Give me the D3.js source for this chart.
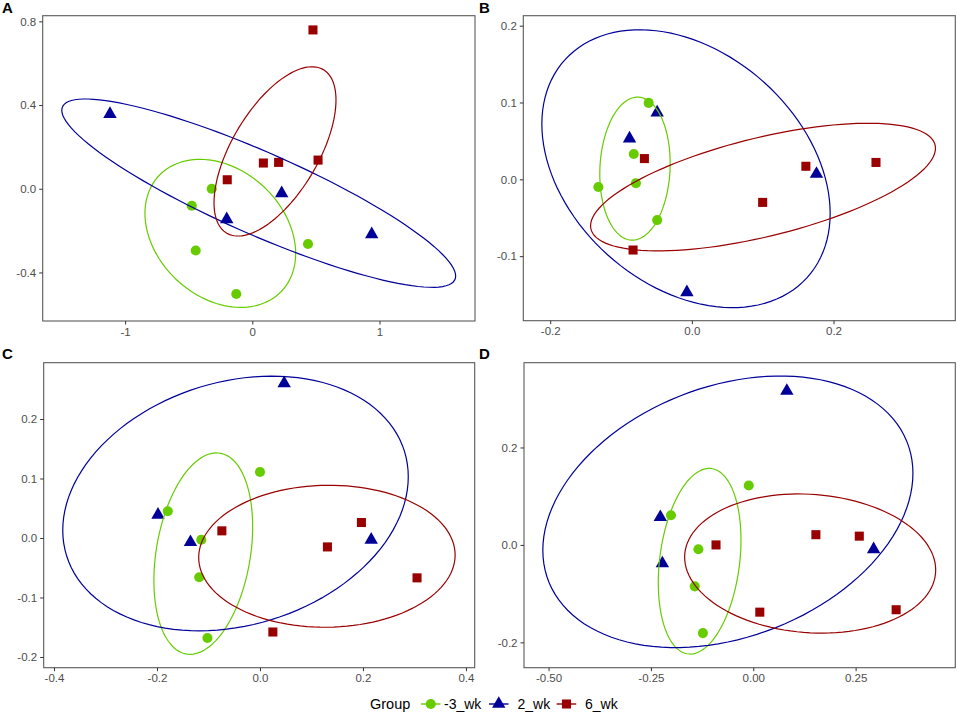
<!DOCTYPE html>
<meta charset="utf-8">
<script src="https://d3js.org/d3.v7.min.js"></script>
<style>
  body { margin: 0; background: #fff; }
  text { font-family: "Liberation Sans", Arial, sans-serif; }
</style>
<div id="chart"></div>
<script>

// groups and legend
var groups = ["-3_wk", "2_wk", "6_wk"];
var colors = ["#66CC00", "#000099", "#990000"];

// points per panel, [x, y] per group
var panelA = [
  [[-0.319, 0.000], [-0.476, -0.081], [-0.445, -0.295], [-0.126, -0.503], [0.438, -0.264]],
  [[-1.119, 0.357], [0.231, -0.022], [-0.201, -0.146], [0.939, -0.218]],
  [[0.477, 0.759], [0.087, 0.123], [0.207, 0.126], [0.517, 0.137], [-0.197, 0.043]]
];
var panelB = [
  [[-0.061, 0.0995], [-0.082, 0.033], [-0.079, -0.005], [-0.132, -0.010], [-0.049, -0.053]],
  [[-0.049, 0.087], [-0.088, 0.053], [0.176, 0.007], [-0.007, -0.147]],
  [[-0.067, 0.027], [0.161, 0.017], [0.260, 0.022], [0.100, -0.030], [-0.083, -0.092]]
];
var panelC = [
  [[0.000, 0.111], [-0.179, 0.045], [-0.114, -0.003], [-0.118, -0.066], [-0.102, -0.168]],
  [[0.047, 0.260], [-0.198, 0.039], [-0.135, -0.007], [0.216, -0.003]],
  [[-0.074, 0.012], [0.197, 0.026], [0.131, -0.015], [0.305, -0.067], [0.025, -0.158]]
];
var panelD = [
  [[-0.011, 0.122], [-0.201, 0.061], [-0.134, -0.009], [-0.143, -0.085], [-0.123, -0.181]],
  [[0.082, 0.316], [-0.227, 0.057], [-0.222, -0.038], [0.294, -0.009]],
  [[-0.091, 0.000], [0.153, 0.021], [0.259, 0.018], [0.016, -0.138], [0.349, -0.133]]
];

// 95% ellipses: [xmin, xmax, ymin, ymax, y at rightmost point]
var ellipsesA = [
  [-0.844, 0.341, -0.567, 0.1405, -0.309],
  [-1.498, 1.599, -0.471, 0.429, -0.417],
  [-0.301, 0.658, -0.226, 0.583, 0.424]
];
var ellipsesB = [
  [-0.130, -0.0306, -0.0792, 0.107, 0.0209],
  [-0.2118, 0.1953, -0.167, 0.1947, -0.0443],
  [-0.143, 0.344, -0.0931, 0.073, 0.0404]
];
var ellipsesC = [
  [-0.206, -0.0142, -0.1955, 0.143, 0.019],
  [-0.383, 0.288, -0.156, 0.272, 0.103],
  [-0.119, 0.379, -0.150, 0.0886, -0.0286]
];
var ellipsesD = [
  [-0.232, -0.030, -0.224, 0.157, 0.0103],
  [-0.514, 0.390, -0.2107, 0.3467, 0.147],
  [-0.1676, 0.4456, -0.181, 0.1046, -0.0513]
];

// axis ranges and ticks
var xDomains = [[-1.648, 1.751], [-0.238, 0.372], [-0.420, 0.417], [-0.560, 0.4935]];
var yDomains = [[-0.632, 0.827], [-0.184, 0.213], [-0.218, 0.2946], [-0.252, 0.374]];
var xTicks = [[-1, 0, 1], [-0.2, 0, 0.2], [-0.4, -0.2, 0, 0.2, 0.4], [-0.5, -0.25, 0, 0.25]];
var xTickLabels = [["-1", "0", "1"], ["-0.2", "0.0", "0.2"], ["-0.4", "-0.2", "0.0", "0.2", "0.4"], ["-0.50", "-0.25", "0.00", "0.25"]];
var yTicks = [[-0.4, 0, 0.4, 0.8], [-0.1, 0, 0.1, 0.2], [-0.2, -0.1, 0, 0.1, 0.2], [-0.2, 0, 0.2]];
var yTickLabels = [["-0.4", "0.0", "0.4", "0.8"], ["-0.1", "0.0", "0.1", "0.2"], ["-0.2", "-0.1", "0.0", "0.1", "0.2"], ["-0.2", "0.0", "0.2"]];
var panelLabels = ["A", "B", "C", "D"];
var panelData = [panelA, panelB, panelC, panelD];
var panelEllipses = [ellipsesA, ellipsesB, ellipsesC, ellipsesD];

// panel boxes on the page
var boxes = [
  {left: 42.7, right: 475, top: 15.7, bottom: 321},
  {left: 523.3, right: 955.3, top: 15.7, bottom: 320.7},
  {left: 43.7, right: 474.7, top: 362.7, bottom: 667.7},
  {left: 524, right: 955.3, top: 362.7, bottom: 667.7}
];

var svg = d3.select("#chart")
  .append("svg")
    .attr("width", 957)
    .attr("height", 714);

// x = cx + A cos t, y = cy + B sin(t + psi)
function ellipsePoints(e) {
  var cx = (e[0] + e[1]) / 2, A = (e[1] - e[0]) / 2;
  var cy = (e[2] + e[3]) / 2, B = (e[3] - e[2]) / 2;
  var psi = Math.asin(Math.max(-1, Math.min(1, (e[4] - cy) / B)));
  return d3.range(0, 120).map(function(k) {
    var t = k * 2 * Math.PI / 120;
    return [cx + A * Math.cos(t), cy + B * Math.sin(t + psi)];
  });
}

var shapes = [d3.symbolCircle, d3.symbolTriangle, d3.symbolSquare];
var sizes = [80, 78, 82];

panelData.forEach(function(data, k) {
  var box = boxes[k];
  var x = d3.scaleLinear().domain(xDomains[k]).range([box.left, box.right]);
  var y = d3.scaleLinear().domain(yDomains[k]).range([box.bottom, box.top]);
  var g = svg.append("g");

  g.append("rect")
    .attr("x", box.left).attr("y", box.top)
    .attr("width", box.right - box.left).attr("height", box.bottom - box.top)
    .attr("fill", "none").attr("stroke", "#5a5a5a").attr("stroke-width", 1.1);

  var xa = g.append("g")
    .attr("transform", "translate(0," + box.bottom + ")")
    .call(d3.axisBottom(x).tickValues(xTicks[k]).tickSize(3.5).tickPadding(3)
      .tickFormat((d, i) => xTickLabels[k][i]));
  var ya = g.append("g")
    .attr("transform", "translate(" + box.left + ",0)")
    .call(d3.axisLeft(y).tickValues(yTicks[k]).tickSize(3.5).tickPadding(3)
      .tickFormat((d, i) => yTickLabels[k][i]));
  [xa, ya].forEach(function(a) {
    a.select(".domain").remove();
    a.selectAll("line").attr("stroke", "#333");
    a.selectAll("text").attr("fill", "#4d4d4d").style("font-size", "11.5px")
      .style("font-family", "'Liberation Sans', Arial, sans-serif");
  });

  data.forEach(function(pts, gi) {
    g.append("g").selectAll("path")
      .data(pts)
      .enter()
      .append("path")
        .attr("d", d3.symbol().type(shapes[gi]).size(sizes[gi]))
        .attr("transform", d => "translate(" + x(d[0]) + "," + y(d[1]) + ")")
        .attr("fill", colors[gi]);
  });

  var line = d3.line().x(d => x(d[0])).y(d => y(d[1])).curve(d3.curveLinearClosed);
  panelEllipses[k].forEach(function(e, gi) {
    g.append("path")
      .attr("d", line(ellipsePoints(e)))
      .attr("fill", "none")
      .attr("stroke", colors[gi])
      .attr("stroke-width", 1.2);
  });

  svg.append("text")
    .attr("x", k % 2 === 0 ? 2 : 479)
    .attr("y", k < 2 ? 13 : 359)
    .style("font-size", "15px")
    .style("font-weight", "bold")
    .text(panelLabels[k]);
});

// legend
var legend = svg.append("g");
legend.append("text")
  .attr("x", 370).attr("y", 709)
  .style("font-size", "14.5px").attr("fill", "#000")
  .text("Group");
var keyX = [421, 489, 556.7];
var labelX = [444, 517.5, 585];
groups.forEach(function(name, i) {
  legend.append("line")
    .attr("x1", keyX[i]).attr("x2", keyX[i] + 19.5)
    .attr("y1", 704).attr("y2", 704)
    .attr("stroke", colors[i]).attr("stroke-width", 1.4);
  legend.append("path")
    .attr("d", d3.symbol().type(shapes[i]).size(sizes[i]))
    .attr("transform", "translate(" + (keyX[i] + 9.75) + ",704)")
    .attr("fill", colors[i]);
  legend.append("text")
    .attr("x", labelX[i]).attr("y", 709)
    .style("font-size", "14px").attr("fill", "#000")
    .text(name);
});

</script>
